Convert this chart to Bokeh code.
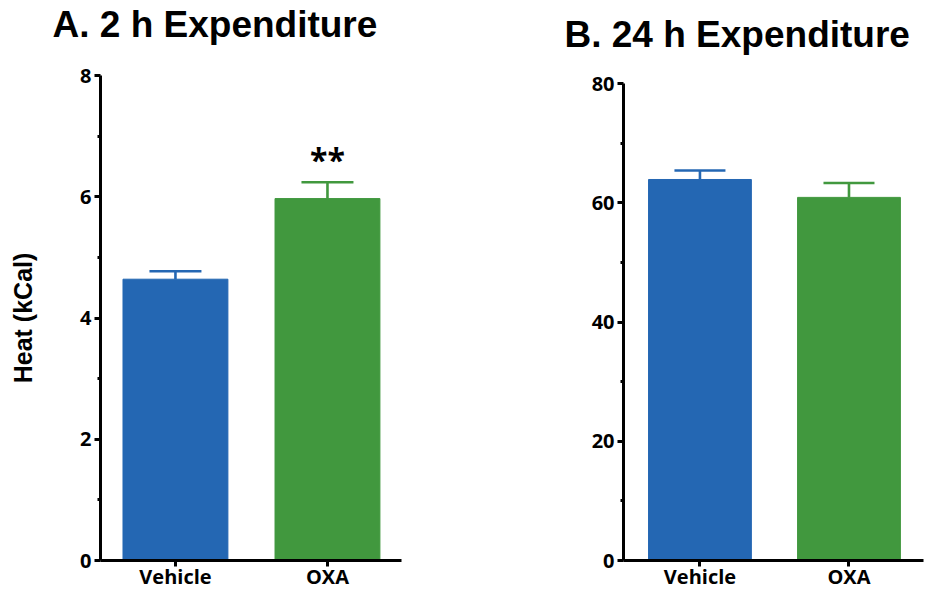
from bokeh.plotting import figure
from bokeh.layouts import row, column
from bokeh.models import (ColumnDataSource, Range1d, FixedTicker, Whisker,
                          TeeHead, Label)
from bokeh.embed import file_html
from bokeh.resources import INLINE

# Mean heat (kCal) and upper error for each treatment
groups = ["Vehicle", "OXA"]
colors = ["#2467B3", "#41983E"]

heat_2h = [4.64, 5.97]
heat_2h_err = [0.13, 0.27]

heat_24h = [63.9, 60.9]
heat_24h_err = [1.5, 2.4]

ticks_2h = [0, 2, 4, 6, 8]
minor_2h = [1, 3, 5, 7]
ticks_24h = [0, 20, 40, 60, 80]
minor_24h = [10, 30, 50, 70]

TICK_FONT = "Open Sans"
TITLE_FONT = "Liberation Sans"
HEADER_H = 60


def make_header(text, width, x_px, y_px):
    """A strip above each chart that carries the panel heading."""
    h = figure(width=width, height=HEADER_H, output_backend="svg",
               toolbar_location=None, x_axis_location=None,
               y_axis_location=None, x_range=Range1d(0, 1),
               y_range=Range1d(0, 1), min_border_left=0, min_border_right=0,
               min_border_top=0, min_border_bottom=0)
    h.outline_line_color = None
    h.grid.visible = False
    h.title.visible = False
    h.add_layout(Label(x=x_px, y=y_px, x_units="screen",
                       y_units="screen", text=text,
                       text_baseline="alphabetic", text_align="left",
                       text_font=TITLE_FONT, text_font_style="bold",
                       text_font_size="37px", text_color="black"))
    return h


def make_panel(means, errs, yticks, yminor, x_range, width,
               border_left, border_right, border_top, border_bottom, cap_px):
    xs = list(range(1, len(groups) + 1))
    src = ColumnDataSource(dict(x=xs, mean=means, color=colors))
    p = figure(width=width, height=592 - HEADER_H, output_backend="svg",
               toolbar_location=None,
               x_range=Range1d(*x_range),
               y_range=Range1d(yticks[0], yticks[-1]),
               min_border_left=border_left, min_border_right=border_right,
               min_border_top=border_top, min_border_bottom=border_bottom)
    p.outline_line_color = None
    p.grid.visible = False
    p.title.visible = False

    p.vbar(x="x", top="mean", bottom=0, width=0.69, source=src,
           fill_color="color", line_color="color", line_width=1)

    for i in range(len(groups)):
        s = ColumnDataSource(dict(x=[xs[i]], lo=[means[i]],
                                  hi=[means[i] + errs[i]]))
        w = Whisker(source=s, base="x", lower="lo", upper="hi",
                    dimension="height", line_color=colors[i], line_width=2.6,
                    upper_head=TeeHead(size=cap_px, line_color=colors[i],
                                       line_width=2.6),
                    lower_head=None)
        p.add_layout(w)

    for ax in (p.xaxis[0], p.yaxis[0]):
        ax.axis_line_width = 3
        ax.axis_line_color = "black"
        ax.major_tick_line_width = 3
        ax.major_tick_line_color = "black"
        ax.major_tick_out = 6
        ax.major_tick_in = 0
        ax.major_label_text_font = TICK_FONT
        ax.major_label_text_font_style = "bold"
        ax.major_label_text_font_size = "20px"
        ax.major_label_text_color = "black"
        ax.major_label_standoff = 3

    p.yaxis.ticker = FixedTicker(ticks=yticks, minor_ticks=yminor)
    p.yaxis.minor_tick_line_width = 3
    p.yaxis.minor_tick_line_color = "black"
    p.yaxis.minor_tick_out = 3
    p.yaxis.minor_tick_in = 0

    p.xaxis.ticker = FixedTicker(ticks=xs, minor_ticks=[])
    p.xaxis.major_label_overrides = {x: g for x, g in zip(xs, groups)}
    p.xaxis.minor_tick_line_color = None
    p.xaxis.major_label_standoff = -4
    p.xaxis.major_label_text_line_height = 1.0
    return p


h1 = make_header("A. 2 h Expenditure", 465, 52, 36)
p1 = make_panel(heat_2h, heat_2h_err, ticks_2h, minor_2h, (0.507, 2.487),
                465, 100, 64, 75 - HEADER_H, 32, 52)
p1.yaxis.axis_label = "Heat (kCal)"
p1.yaxis.axis_label_text_font = TITLE_FONT
p1.yaxis.axis_label_text_font_style = "bold"
p1.yaxis.axis_label_text_font_size = "25px"
p1.yaxis.axis_label_text_color = "black"
p1.yaxis.axis_label_standoff = 40

# significance marker above the OXA error bar
p1.add_layout(Label(x=2, y=heat_2h[1] + heat_2h_err[1], text="**",
                    text_align="center", text_baseline="alphabetic",
                    y_offset=23, text_font=TICK_FONT,
                    text_font_style="bold", text_font_size="32px",
                    text_color="black"))

h2 = make_header("B. 24 h Expenditure", 466, 99, 26)
p2 = make_panel(heat_24h, heat_24h_err, ticks_24h, minor_24h, (0.487, 2.5),
                466, 158, 8, 83 - HEADER_H, 30, 51)

# each heading sits in its own row so its frame spans the full strip
layout = row(column(row(h1), p1), column(row(h2), p2))
open("out.html", "w").write(file_html(layout, INLINE))
